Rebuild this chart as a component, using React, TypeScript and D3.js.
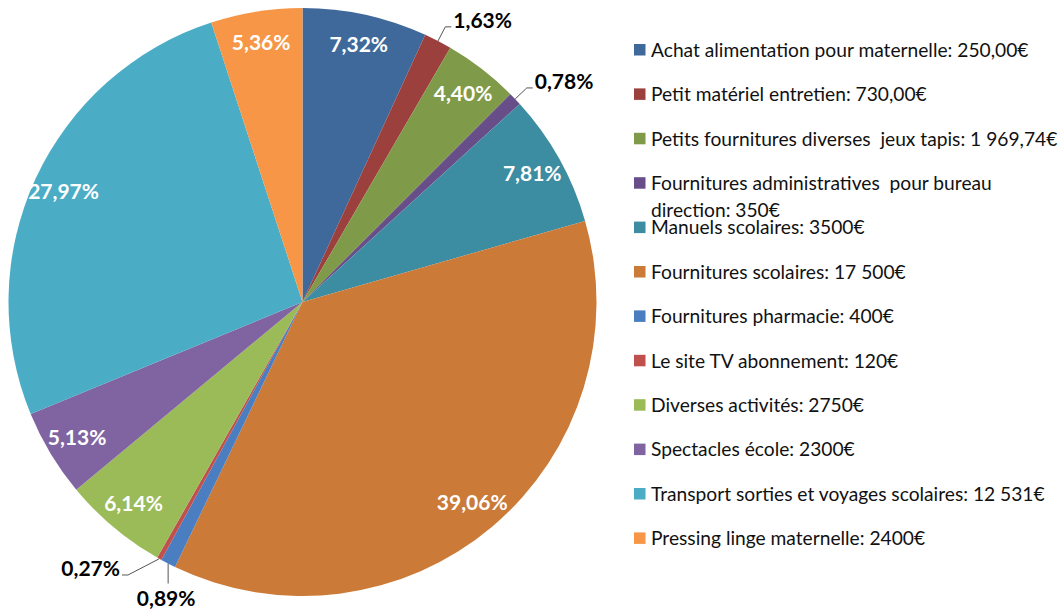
import React from 'react';
import * as d3 from 'd3';

// percentages printed on the slices (they sum to more than 100, the pie normalises them)
const shares = [7.32, 1.63, 4.4, 0.78, 7.81, 39.06, 0.89, 0.27, 6.14, 5.13, 27.97, 5.36];

const legendLabels = [
  'Achat alimentation pour maternelle: 250,00€',
  'Petit matériel entretien: 730,00€',
  'Petits fournitures diverses  jeux tapis: 1 969,74€',
  'Fournitures administratives  pour bureau\ndirection: 350€',
  'Manuels scolaires: 3500€',
  'Fournitures scolaires: 17 500€',
  'Fournitures pharmacie: 400€',
  'Le site TV abonnement: 120€',
  'Diverses activités: 2750€',
  'Spectacles école: 2300€',
  'Transport sorties et voyages scolaires: 12 531€',
  'Pressing linge maternelle: 2400€',
];

const colors = [
  '#40699b', '#9c403e', '#7f9a48', '#684e88', '#3c8ca2', '#cb7a37',
  '#4a7ec0', '#c0504d', '#9bbb59', '#8064a2', '#4bacc6', '#f79646',
];

// where the small slices put their label: inside, or outside with a leader line
const labelPlacement = ['in', 'right', 'in', 'right', 'in', 'in', 'below', 'left', 'in', 'in', 'in', 'in'];

const fmt = (v: number) => v.toFixed(2).replace('.', ',') + '%';

const App = () => {
  const width = 1063;
  const height = 610;
  const cx = 302.5;
  const cy = 302;
  const radius = 294;

  const pie = d3.pie<number>().sort(null).value((d) => d);
  const arcs = pie(shares);
  const arc = d3.arc<d3.PieArcDatum<number>>().innerRadius(0).outerRadius(radius);

  const polar = (a: number, r: number): [number, number] => [Math.sin(a) * r, -Math.cos(a) * r];

  const legendY = d3.scaleLinear().domain([0, 1]).range([50, 94.4]);

  return (
    <svg width={width} height={height} style={{ position: 'absolute', left: 0, top: 0 }}>
      <g transform={`translate(${cx},${cy})`}>
        {arcs.map((a, i) => (
          <path key={i} d={arc(a) || ''} fill={colors[i]} />
        ))}
        {arcs.map((a, i) => {
          const mid = (a.startAngle + a.endAngle) / 2;
          const place = labelPlacement[i];
          const txt = fmt(shares[i]);
          const style = { fontFamily: 'Lato, sans-serif', fontWeight: 700, fontSize: 21 };
          if (place === 'in') {
            const [x, y] = polar(mid, radius * 0.895);
            return (
              <text key={i} x={x} y={y} dy="0.35em" textAnchor="middle" fill="#fff" style={style}>
                {txt}
              </text>
            );
          }
          const [x0, y0] = polar(mid, radius);
          if (place === 'below') {
            return (
              <g key={i}>
                <line x1={x0} y1={y0} x2={x0} y2={y0 + 20} stroke="#555" strokeWidth={1} />
                <text x={x0 - 2} y={y0 + 35} dy="0.35em" textAnchor="middle" fill="#000" style={style}>
                  {txt}
                </text>
              </g>
            );
          }
          const left = place === 'left';
          const [x1, y1] = polar(mid + (left ? 0.06 : 0), radius + (left ? 30 : 16));
          const dir = left ? -1 : 1;
          const x2 = x1 + dir * 6;
          return (
            <g key={i}>
              <polyline points={`${x0},${y0} ${x1},${y1} ${x2},${y1}`} fill="none" stroke="#555" strokeWidth={1} />
              <text
                x={x2 + dir * 2}
                y={y1 - 6}
                dy="0.35em"
                textAnchor={dir > 0 ? 'start' : 'end'}
                fill="#000"
                style={style}
              >
                {txt}
              </text>
            </g>
          );
        })}
      </g>
      <g>
        {legendLabels.map((label, i) => {
          const y = legendY(i);
          const lines = label.split('\n');
          return (
            <g key={i}>
              <rect x={634} y={y - 6} width={11.5} height={11.5} fill={colors[i]} />
              {lines.map((ln, j) => (
                <text
                  key={j}
                  x={651}
                  y={y + j * 27}
                  dy="0.35em"
                  fill="#111"
                  style={{ fontFamily: 'Lato, sans-serif', fontSize: 19.2, whiteSpace: 'pre' }}
                >
                  {ln}
                </text>
              ))}
            </g>
          );
        })}
      </g>
    </svg>
  );
};

export default App;
